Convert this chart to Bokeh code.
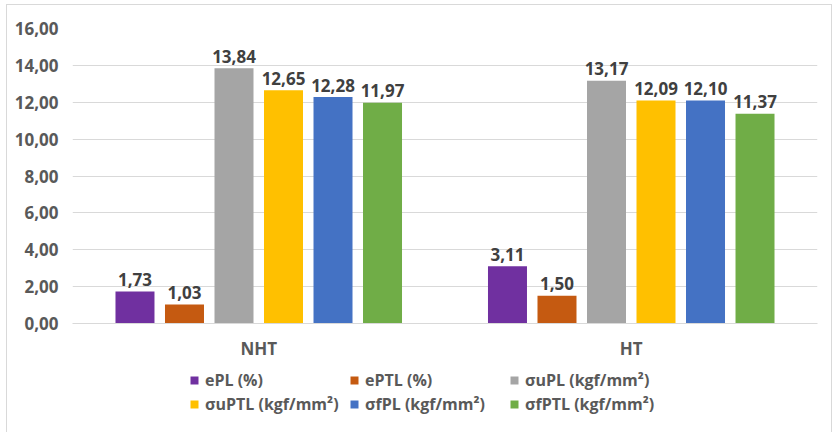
from bokeh.plotting import figure
from bokeh.layouts import column
from bokeh.models import (ColumnDataSource, Range1d, FactorRange, FixedTicker,
                          CustomJSTickFormatter, Legend, LegendItem)
from bokeh.transform import dodge
from bokeh.core.properties import value
from bokeh.embed import file_html
from bokeh.resources import INLINE

categories = ["NHT", "HT"]
series_names = ["ePL (%)", "ePTL (%)", "σuPL (kgf/mm²)",
                "σuPTL (kgf/mm²)", "σfPL (kgf/mm²)", "σfPTL (kgf/mm²)"]
ePL = [1.73, 3.11]
ePTL = [1.03, 1.50]
suPL = [13.84, 13.17]
suPTL = [12.65, 12.09]
sfPL = [12.28, 12.10]
sfPTL = [11.97, 11.37]
colors = ["#7030A0", "#C55A11", "#A5A5A5", "#FFC000", "#4472C4", "#70AD47"]
y_ticks = [0, 2, 4, 6, 8, 10, 12, 14, 16]

series = [ePL, ePTL, suPL, suPTL, sfPL, sfPTL]
FONT = "Open Sans"

p = figure(x_range=FactorRange(*categories, range_padding=0),
           y_range=Range1d(0, 16),
           width=824, height=363, output_backend="svg", toolbar_location=None,
           min_border_left=65, min_border_right=14, min_border_top=23,
           min_border_bottom=45)
p.outline_line_color = None
p.xgrid.grid_line_color = None
p.ygrid.grid_line_color = "#d9d9d9"
p.ygrid.grid_line_width = 1

p.yaxis.ticker = FixedTicker(ticks=y_ticks)
p.yaxis.formatter = CustomJSTickFormatter(code="return tick.toFixed(2).replace('.', ',');")
p.yaxis.axis_line_color = None
p.yaxis.major_tick_line_color = None
p.yaxis.minor_tick_line_color = None
p.yaxis.major_tick_out = 0
p.yaxis.major_tick_in = 0
p.yaxis.major_label_standoff = 14
p.yaxis.major_label_text_font = FONT
p.yaxis.major_label_text_font_size = "17px"
p.yaxis.major_label_text_font_style = "bold"
p.yaxis.major_label_text_color = "#595959"

p.xaxis.axis_line_color = "#d9d9d9"
p.xaxis.major_tick_line_color = None
p.xaxis.minor_tick_line_color = None
p.xaxis.major_tick_out = 0
p.xaxis.major_tick_in = 0
p.xaxis.major_label_standoff = 13
p.xaxis.major_label_text_font = FONT
p.xaxis.major_label_text_font_size = "17px"
p.xaxis.major_label_text_font_style = "bold"
p.xaxis.major_label_text_color = "#595959"

slot = 0.1329
bar_w = 0.1047
sources = []
for i, (vals, col) in enumerate(zip(series, colors)):
    src = ColumnDataSource(dict(cat=categories, val=vals,
                                lab=[f"{v:.2f}".replace(".", ",") for v in vals]))
    sources.append(src)
    off = (i - 2.5) * slot
    p.vbar(x=dodge("cat", off, range=p.x_range), top="val", width=bar_w,
           source=src, fill_color=col, line_color=None)
    p.text(x=dodge("cat", off, range=p.x_range), y="val", text="lab", source=src,
           text_align="center", text_baseline="alphabetic", y_offset=-12,
           text_font=value(FONT), text_font_size="17px", text_font_style="bold",
           text_color="#404040")

# legend strip below the chart (its renderers are hidden; only the legend shows)
lf = figure(width=824, height=65, output_backend="svg", toolbar_location=None,
            x_range=FactorRange(*categories, range_padding=0),
            y_range=Range1d(0, 16), min_border=0)
lf.axis.visible = False
lf.grid.visible = False
lf.outline_line_color = None
renderers = []
for i, (src, col) in enumerate(zip(sources, colors)):
    off = (i - 2.5) * slot
    r = lf.vbar(x=dodge("cat", off, range=lf.x_range), top="val",
                width=bar_w, source=src, fill_color=col, line_color=None)
    r.visible = False
    renderers.append(r)
# column-major fill of a 2x3 grid -> rows read: 0 1 2 / 3 4 5
order = [0, 3, 1, 4, 2, 5]
items = [LegendItem(label=series_names[k], renderers=[renderers[k]]) for k in order]
legend = Legend(items=items, ncols=3, location=(117, 18),
                glyph_width=10, glyph_height=10, label_standoff=6,
                label_width=142, label_height=20, spacing=2, padding=0, margin=0,
                border_line_color=None, background_fill_alpha=0,
                inactive_fill_alpha=0,
                label_text_font=FONT, label_text_font_size="16px",
                label_text_font_style="bold", label_text_color="#595959")
lf.add_layout(legend, "center")

layout = column(p, lf, spacing=0)
layout.styles = {"margin": "4px 0 0 6px", "border": "1px solid #d9d9d9"}

open("out.html", "w").write(file_html(layout, INLINE))
